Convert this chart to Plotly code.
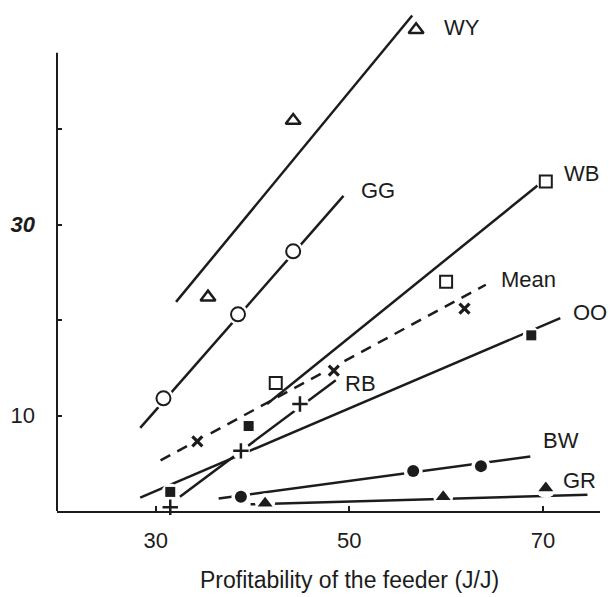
import plotly.graph_objects as go

# Observed points per group: profitability of the feeder (J/J) vs response
groups = ["WY", "GG", "WB", "Mean", "RB", "OO", "BW", "GR"]

wy_x = [35.4, 44.2, 56.9]
wy_y = [22.4, 40.9, 50.4]
gg_x = [30.8, 38.5, 44.2]
gg_y = [11.8, 20.6, 27.2]
wb_x = [42.4, 60.0, 70.3]
wb_y = [13.4, 24.0, 34.5]
mean_x = [34.3, 48.4, 61.9]
mean_y = [7.3, 14.7, 21.2]
rb_x = [31.5, 38.8, 44.9]
rb_y = [0.4, 6.3, 11.2]
oo_x = [31.5, 39.6, 68.8]
oo_y = [2.0, 8.9, 18.4]
bw_x = [38.8, 56.6, 63.6]
bw_y = [1.5, 4.2, 4.7]
gr_x = [41.3, 59.7, 70.3]
gr_y = [0.8, 1.5, 2.4]

# Fitted regression lines: (x start, x end), (y start, y end)
fit_x = {
    "WY": [32.1, 56.5], "GG": [28.4, 49.4], "WB": [41.5, 70.8],
    "Mean": [30.5, 64.1], "RB": [32.5, 48.6], "OO": [28.4, 71.8],
    "BW": [36.5, 68.7], "GR": [39.8, 74.6],
}
fit_y = {
    "WY": [21.9, 51.9], "GG": [8.7, 33.0], "WB": [11.2, 35.2],
    "Mean": [5.3, 23.7], "RB": [1.5, 13.7], "OO": [1.4, 20.2],
    "BW": [1.3, 5.7], "GR": [0.7, 1.7],
}

# Group label positions
label_x = [59.6, 51.0, 72.0, 65.5, 49.3, 72.9, 69.8, 71.9]
label_y = [50.6, 33.6, 35.4, 24.2, 13.4, 20.8, 7.4, 3.2]

y_ticks = [10, 20, 30, 40]
y_tick_text = ["10", "", "<b><i>30</i></b>", ""]
x_ticks = [30, 50, 70]
x_title = "Profitability of the feeder (J/J)"

INK = "#1c1c1c"
FONT = "Liberation Sans, Arial, sans-serif"

points = {
    "WY": (wy_x, wy_y, dict(symbol="triangle-up", size=13, color="white",
                            line=dict(color=INK, width=2.5))),
    "GG": (gg_x, gg_y, dict(symbol="circle", size=14, color="white",
                            line=dict(color=INK, width=2))),
    "WB": (wb_x, wb_y, dict(symbol="square", size=12, color="white",
                            line=dict(color=INK, width=2))),
    "Mean": (mean_x, mean_y, dict(symbol="x-thin", size=10, color=INK,
                                  line=dict(color=INK, width=3.2))),
    "RB": (rb_x, rb_y, dict(symbol="cross-thin", size=11, color=INK,
                            line=dict(color=INK, width=2.5))),
    "OO": (oo_x, oo_y, dict(symbol="square", size=10, color=INK,
                            line=dict(color=INK, width=0))),
    "BW": (bw_x, bw_y, dict(symbol="circle", size=12, color=INK,
                            line=dict(color=INK, width=0))),
    "GR": (gr_x, gr_y, dict(symbol="triangle-up", size=13, color=INK,
                            line=dict(color=INK, width=0))),
}

fig = go.Figure()

# Regression lines
for g in groups:
    fig.add_trace(go.Scatter(
        x=fit_x[g], y=fit_y[g], mode="lines",
        line=dict(color=INK, width=2.5, dash="11px,8px" if g == "Mean" else "solid"),
        hoverinfo="skip", showlegend=False, cliponaxis=False,
    ))

# White halos break the lines around each symbol
for g in groups:
    xs, ys, m = points[g]
    fig.add_trace(go.Scatter(
        x=xs, y=ys, mode="markers",
        marker=dict(symbol="circle", size=m["size"] + 7, color="white",
                    line=dict(width=0)),
        hoverinfo="skip", showlegend=False, cliponaxis=False,
    ))

# Observed points
for g in groups:
    xs, ys, m = points[g]
    fig.add_trace(go.Scatter(
        x=xs, y=ys, mode="markers", marker=m, name=g,
        showlegend=False, cliponaxis=False,
    ))

for g, lx, ly in zip(groups, label_x, label_y):
    fig.add_annotation(x=lx, y=ly, text=g, showarrow=False,
                       xanchor="left", yanchor="middle",
                       font=dict(family=FONT, size=22, color=INK))

# Axis title, centred a little right of the plotting area
fig.add_annotation(xref="paper", yref="paper", x=0.538, y=-0.136,
                   text=x_title, showarrow=False,
                   xanchor="center", yanchor="middle",
                   font=dict(family=FONT, size=23, color=INK))

# Left axis line stops below the top of the plotting area
fig.add_shape(type="line", xref="paper", yref="y", x0=0, x1=0, y0=0, y1=48,
              line=dict(color=INK, width=2), layer="above")

fig.update_layout(
    width=610, height=597,
    margin=dict(l=57, r=10, t=5, b=86),
    paper_bgcolor="white", plot_bgcolor="white",
    font=dict(family=FONT, color=INK),
    xaxis=dict(
        range=[19.8, 75.9], showgrid=False, zeroline=False,
        showline=True, linecolor=INK, linewidth=2,
        ticks="inside", ticklen=5, tickwidth=1.5, tickcolor=INK,
        tickvals=x_ticks, tickfont=dict(size=22, family=FONT, color=INK),
        ticklabelstandoff=9,
    ),
    yaxis=dict(
        range=[0, 53], showgrid=False, zeroline=False, showline=False,
        ticks="inside", ticklen=5, tickwidth=1.5, tickcolor=INK,
        tickvals=y_ticks, ticktext=y_tick_text,
        tickfont=dict(size=22, family=FONT, color=INK),
        ticklabelstandoff=21,
    ),
)

fig.write_html("out.html")
